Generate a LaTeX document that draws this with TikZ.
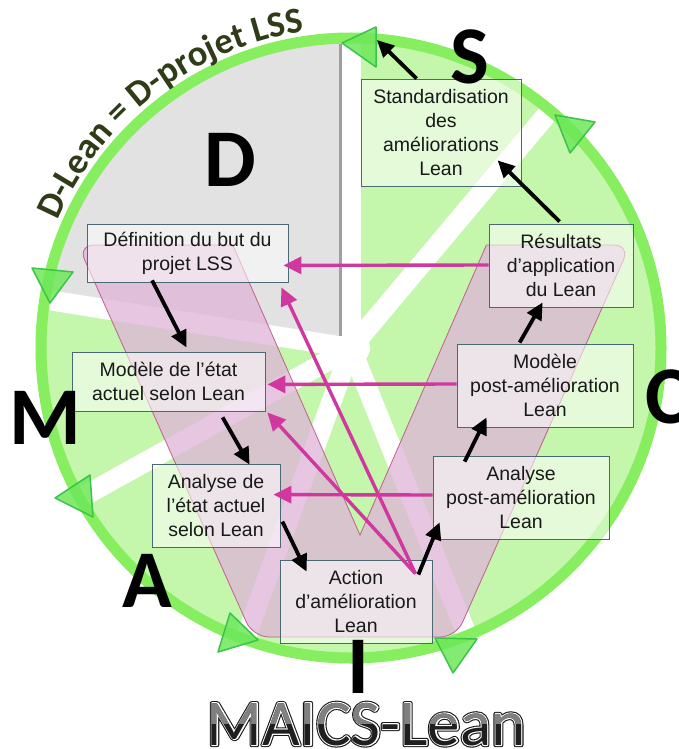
\documentclass[tikz,border=0pt]{standalone}
\usepackage{fontspec}
\setmainfont{Liberation Sans}
\newfontfamily\carlito{Carlito}
\usetikzlibrary{arrows.meta,decorations.text,calc}
\definecolor{ringgreen}{RGB}{135,238,95}
\definecolor{secgreen}{RGB}{196,246,172}
\definecolor{secgray}{RGB}{226,226,226}
\definecolor{vpink}{RGB}{222,180,215}
\definecolor{vline}{RGB}{195,95,140}
\definecolor{boxline}{RGB}{75,105,115}
\definecolor{magarrow}{RGB}{208,56,160}
\definecolor{trifill}{RGB}{110,232,90}
\definecolor{triline}{RGB}{60,195,75}
\definecolor{olivetext}{RGB}{48,60,24}
\begin{document}
\begin{tikzpicture}[x=1pt,y=1pt,
 stepbox/.style={draw=boxline, line width=0.8pt, fill=white, fill opacity=0.55, text opacity=1, align=center, inner sep=0pt, font=\fontsize{19.5}{24}\selectfont, text=black!90},
 blackarrow/.style={line width=3.8pt, draw=black, -{Triangle[length=17pt,width=16pt]}},
 magentaarrow/.style={line width=3.4pt, draw=magarrow, -{Triangle[length=18pt,width=17pt]}},
 tri/.style={fill=trifill, fill opacity=0.85, draw=triline, line width=1.5pt, line join=round},
 bigletter/.style={font=\carlito\bfseries\fontsize{82}{82}\selectfont, inner sep=0pt, text=black},
 maics/.style={font=\carlito\fontsize{65}{65}\selectfont, inner sep=0pt, anchor=base}
]
\fill[white] (0,0) rectangle (678,-749);
\useasboundingbox (0,0) rectangle (678,-749);
\coordinate (O) at (351,-348);

% sectors
\fill[secgreen] (O) circle[radius=306];
\fill[secgray] (O) -- ($(O)+(90:306)$) arc[start angle=90,end angle=171,radius=306] -- cycle;
\foreach \a in {90,50,-68,-110,-151,171} \draw[white, line width=20pt] (O) -- ($(O)+(\a:320)$);
\fill[white] (354,-348) circle[radius=16];
\draw[gray!75, line width=2.5pt] (340.5,-44) -- (340.5,-336);

% ring
\draw[ringgreen, line width=11pt] (O) circle[radius=310];

% curved title
\path[decorate, decoration={text along path, text align=center,
  text={|\carlito\bfseries\fontsize{36.5}{36.5}\selectfont\color{olivetext}|D-Lean = D-projet LSS}}]
  ($(O)+(158:320)$) arc[start angle=158, end angle=97, radius=320];

% V overlay
\begin{scope}[even odd rule]
 \clip (0,0) rectangle (678,-749) (213,-200) -- (360,-535) -- (506,-200) -- cycle;
 \fill[vpink, fill opacity=0.75, rounded corners=16pt] (78,-245) -- (630,-245) -- (456,-637) -- (253,-637) -- cycle;
 \draw[vline, line width=0.8pt, rounded corners=16pt] (78,-245) -- (630,-245) -- (456,-637) -- (253,-637) -- cycle;
\end{scope}
\begin{scope}
 \clip (78,-245) -- (630,-245) -- (456,-637) -- (253,-637) -- cycle;
 \draw[vline, line width=0.8pt] (213,-200) -- (360,-535) -- (506,-200);
\end{scope}

% ring triangles
\draw[tri] (342,-43) -- (376,-27) -- (376,-67) -- cycle;
\draw[tri] (555,-115) -- (595,-122) -- (570,-153) -- cycle;
\draw[tri] (32,-268) -- (73,-272) -- (50,-303) -- cycle;
\draw[tri] (55,-498) -- (90,-475) -- (93,-517) -- cycle;
\draw[tri] (230,-613) -- (258,-640) -- (218,-652) -- cycle;
\draw[tri] (435,-638) -- (477,-639) -- (453,-673) -- cycle;
\coordinate (t1tip) at (377,-40);

% boxes
\node[stepbox, minimum width=201pt, minimum height=58pt] (def) at (187.5,-253) {Définition du but du\\projet LSS};
\node[stepbox, minimum width=193pt, minimum height=59pt] (mact) at (168.5,-381.5) {Modèle de l’état\\actuel selon Lean};
\node[stepbox, minimum width=128pt, minimum height=83pt] (aact) at (216,-505.5) {Analyse de\\l’état actuel\\selon Lean};
\node[stepbox, minimum width=152pt, minimum height=83pt] (act) at (356,-601.5) {Action\\d’amélioration\\Lean};
\node[stepbox, minimum width=176pt, minimum height=83pt] (apost) at (521,-497.5) {Analyse\\post-amélioration\\Lean};
\node[stepbox, minimum width=176pt, minimum height=83pt] (mpost) at (545,-385.5) {Modèle\\post-amélioration\\Lean};
\node[stepbox, minimum width=144pt, minimum height=83pt] (res) at (561,-265.5) {Résultats\\d’application\\du Lean};
\node[stepbox, minimum width=160pt, minimum height=107pt] (std) at (441,-132.5) {Standardisation\\des\\améliorations\\Lean};

% black arrows
\draw[blackarrow] ($(def.south west)+(65.5,2)$) -- ($(mact.north west)+(115,4)$);
\draw[blackarrow] ($(mact.south west)+(151,-6)$) -- ($(aact.north west)+(98,-1)$);
\draw[blackarrow] ($(aact.north east)+(2,-58)$) -- ($(act.north west)+(27,-12)$);
\draw[blackarrow] ($(act.north east)+(-14,-15)$) -- ($(apost.south west)+(7,17)$);
\draw[blackarrow] ($(apost.north west)+(32,-6)$) -- ($(mpost.south west)+(30,10)$);
\draw[blackarrow] ($(mpost.north west)+(63,1)$) -- ($(res.south west)+(54,5)$);
\draw[blackarrow] ($(res.north west)+(71,2)$) -- ($(std.south west)+(137,26)$);
\draw[blackarrow] ($(std.north west)+(56,0)$) -- (t1tip);

% magenta arrows
\coordinate (src) at ($(act.north east)+(-17,-14)$);
\draw[magentaarrow] ($(res.west)+(0,0.5)$) -- ($(def.south east)+(-5,17)$);
\draw[magentaarrow] ($(mpost.west)+(0,1.5)$) -- ($(mact.south east)+(2,27)$);
\draw[magentaarrow] ($(apost.west)+(0,2.5)$) -- ($(aact.north east)+(-7,-31)$);
\draw[magentaarrow] (src) -- ($(def.south east)+(-7,-5)$);
\draw[magentaarrow] (src) -- ($(mact.south east)+(2,-1)$);

% big letters
\node[bigletter] (Dl) at (230,-160) {D};
\node[bigletter] (Sl) at (470,-57) {S};
\node[bigletter] (Ml) at (45,-418) {M};
\node[bigletter] (Al) at (147,-581) {A};
\node[bigletter] (Cl) at (667,-397) {C};
\node[bigletter] (Il) at (358,-667) {I};

% MAICS-Lean (outlined word art)
\node[maics] (maicsback) at (366,-745) {\color{black}\special{pdf:literal direct 2 Tr 4.4 w 1 j 0.1 0.1 0.1 RG}MAICS-Lean\special{pdf:literal direct 0 Tr}};
\node[maics] (maicsmid) at (366,-745) {\color{white}\special{pdf:literal direct 2 Tr 2.2 w 1 j 1 1 1 RG}MAICS-Lean\special{pdf:literal direct 0 Tr}};
\node[maics, text=black!88] (maics) at (366,-745) {MAICS-Lean};
\begin{scope}
 \clip (150,-698) rectangle (560,-723);
 \node[maics, text=black!50] (maicstop) at (366,-745) {MAICS-Lean};
\end{scope}
\end{tikzpicture}
\end{document}
